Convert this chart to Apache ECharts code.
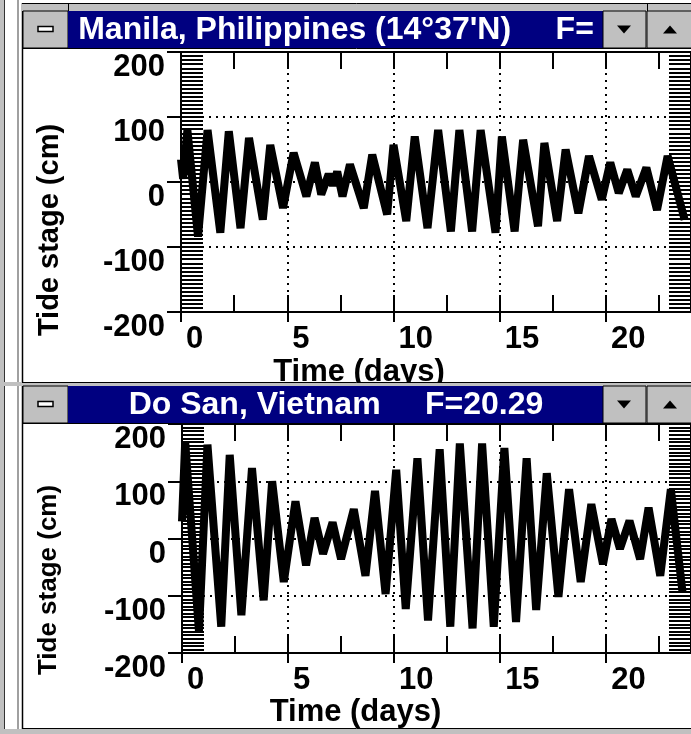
<!DOCTYPE html>
<html>
<head>
<meta charset="utf-8">
<title>Tide stage</title>
<script src="https://cdn.jsdelivr.net/npm/echarts@6/dist/echarts.min.js"></script>
<style>
    html, body { margin: 0; padding: 0; background: #fff; }
    #chart { width: 691px; height: 734px; }
</style>
</head>
<body>
<div id="chart"></div>
<script>
    // Manila, Philippines - highs and lows (day, cm)
    var manilaDays = [0, 0.1, 0.3, 0.8, 1.25, 1.85, 2.25, 2.8, 3.2, 3.85, 4.2, 4.8, 5.3, 5.9, 6.3, 6.6, 6.95, 7.15, 7.35, 7.6, 7.95,
        8.6, 9.0, 9.7, 10.0, 10.6, 11.0, 11.6, 12.1, 12.7, 13.1, 13.7, 14.1, 14.8, 15.1, 15.7, 16.1, 16.8, 17.1, 17.7,
        18.1, 18.7, 19.2, 19.8, 20.2, 20.6, 21.0, 21.4, 21.9, 22.4, 22.9, 23.7];
    var manilaCm = [35, 5, 80, -84, 80, -78, 78, -71, 68, -58, 57, -40, 45, -22, 30, -19, 12, -5, 16, -22, 27,
        -40, 42, -50, 57, -60, 70, -71, 80, -76, 80, -76, 80, -78, 70, -76, 65, -68, 60, -60,
        50, -48, 40, -27, 30, -17, 19, -22, 22, -43, 40, -58];

    // Do San, Vietnam
    var doSanDays = [0, 0.15, 0.8, 1.2, 1.85, 2.25, 2.8, 3.3, 3.85, 4.25, 4.8, 5.35, 5.85, 6.25, 6.65, 7.1, 7.5, 8.1, 8.65,
        9.1, 9.6, 10.1, 10.55, 11.1, 11.6, 12.15, 12.65, 13.1, 13.7, 14.15, 14.7, 15.2, 15.75, 16.25, 16.7, 17.2,
        17.75, 18.25, 18.8, 19.3, 19.85, 20.25, 20.65, 21.1, 21.6, 22.0, 22.55, 23.05, 23.6];
    var doSanCm = [30, 169, -163, 164, -154, 146, -134, 123, -108, 100, -76, 65, -47, 36, -27, 28, -36, 51, -65,
        83, -97, 120, -123, 140, -143, 156, -154, 166, -157, 166, -154, 158, -146, 140, -125, 114,
        -102, 86, -76, 60, -45, 34, -18, 31, -36, 54, -65, 86, -94];

    var titles = ["Manila, Philippines (14\u00b037'N)     F=", 'Do San, Vietnam     F=20.29'];
    var FONT = '"Liberation Sans", Arial, sans-serif';
    var BLACK = '#000';

    function pairs(xs, ys) {
        var out = [];
        for (var i = 0; i < xs.length; i++) {
            out.push([xs[i], ys[i]]);
        }
        return out;
    }

    function xAxesFor(g, nameGap, namePad) {
        return [{
            gridIndex: g, type: 'value', position: 'bottom', min: 0, max: 24, interval: 5,
            axisLine: {onZero: false, lineStyle: {color: BLACK, width: 2}},
            axisTick: {inside: false, length: 10, lineStyle: {color: BLACK, width: 2}},
            axisLabel: {showMaxLabel: false, color: BLACK, fontFamily: FONT, fontWeight: 'bold', fontSize: 31,
                margin: 12, align: 'left', padding: [0, 0, 0, 5]},
            splitLine: {show: true, lineStyle: {color: BLACK, width: 2, type: [2, 5]}},
            name: 'Time (days)', nameLocation: 'middle', nameGap: nameGap,
            nameTextStyle: {color: BLACK, fontFamily: FONT, fontWeight: 'bold', fontSize: 31, padding: [0, namePad, 0, 0]}
        }, {
            gridIndex: g, type: 'value', position: 'bottom', min: 0, max: 24, interval: 2.5,
            axisLine: {show: false, onZero: false},
            axisTick: {inside: true, length: 17, lineStyle: {color: BLACK, width: 2}},
            axisLabel: {show: false},
            splitLine: {show: false}
        }, {
            gridIndex: g, type: 'value', position: 'top', min: 0, max: 24, interval: 2.5,
            axisLine: {show: true, onZero: false, lineStyle: {color: BLACK, width: 2}},
            axisTick: {inside: true, length: 17, lineStyle: {color: BLACK, width: 2}},
            axisLabel: {show: false},
            splitLine: {show: false}
        }];
    }

    function yAxesFor(g, nameGap, namePad, nameSize) {
        var hatch = {show: true, splitNumber: 16, length: 22, lineStyle: {color: BLACK, width: 2}};
        return [{
            gridIndex: g, type: 'value', position: 'left', min: -200, max: 200, interval: 100,
            axisLine: {onZero: false, lineStyle: {color: BLACK, width: 2}},
            axisTick: {inside: false, length: 14, lineStyle: {color: BLACK, width: 2}},
            axisLabel: {color: BLACK, fontFamily: FONT, fontWeight: 'bold', fontSize: 31, margin: 16, verticalAlign: 'top'},
            splitLine: {show: true, lineStyle: {color: BLACK, width: 2, type: [2, 5]}},
            name: 'Tide stage (cm)', nameLocation: 'middle', nameGap: nameGap,
            nameTextStyle: {color: BLACK, fontFamily: FONT, fontWeight: 'bold', fontSize: nameSize, padding: [0, namePad, 0, 0]}
        }, {
            gridIndex: g, type: 'value', position: 'left', min: -200, max: 200, interval: 100,
            axisLine: {show: false, onZero: false},
            axisTick: {inside: true, length: 22, lineStyle: {color: BLACK, width: 2}},
            minorTick: hatch,
            axisLabel: {show: false},
            splitLine: {show: false}
        }, {
            gridIndex: g, type: 'value', position: 'right', min: -200, max: 200, interval: 100,
            axisLine: {show: true, onZero: false, lineStyle: {color: BLACK, width: 2}},
            axisTick: {inside: true, length: 22, lineStyle: {color: BLACK, width: 2}},
            minorTick: hatch,
            axisLabel: {show: false},
            splitLine: {show: false}
        }];
    }

    // window frames, title bars and buttons
    function windowChrome(top, h) {
        var gray = '#c0c0c0';
        var mid = top + h / 2;
        return [
            {type: 'rect', shape: {x: 23, y: top, width: 45, height: h}, style: {fill: gray, stroke: BLACK, lineWidth: 1}},
            {type: 'rect', shape: {x: 38, y: mid - 3, width: 15, height: 5}, style: {fill: '#fff', stroke: BLACK, lineWidth: 1.5}},
            {type: 'rect', shape: {x: 68, y: top, width: 535, height: h}, style: {fill: '#000080'}},
            {type: 'rect', shape: {x: 603, y: top, width: 43, height: h}, style: {fill: gray, stroke: BLACK, lineWidth: 1}},
            {type: 'polygon', shape: {points: [[617, mid - 4], [631, mid - 4], [624, mid + 4]]}, style: {fill: BLACK}},
            {type: 'rect', shape: {x: 647, y: top, width: 50, height: h}, style: {fill: gray, stroke: BLACK, lineWidth: 1}},
            {type: 'polygon', shape: {points: [[663, mid + 4], [677, mid + 4], [670, mid - 4]]}, style: {fill: BLACK}},
            {type: 'line', shape: {x1: 22, y1: top + h + 0.5, x2: 691, y2: top + h + 0.5}, style: {stroke: BLACK, lineWidth: 1}}
        ];
    }

    function drawChart() {
        var chart = echarts.init(document.getElementById('chart'));

        var graphics = [
            {type: 'rect', shape: {x: 0, y: 0, width: 4, height: 734}, style: {fill: '#c0c0c0'}},
            {type: 'line', shape: {x1: 4.5, y1: 0, x2: 4.5, y2: 734}, style: {stroke: '#333', lineWidth: 1}},
            {type: 'rect', shape: {x: 17, y: 0, width: 2, height: 734}, style: {fill: '#a0a0a0'}},
            {type: 'line', shape: {x1: 22.5, y1: 3, x2: 22.5, y2: 729}, style: {stroke: BLACK, lineWidth: 1.5}},
            {type: 'rect', shape: {x: 22, y: 3, width: 680, height: 8}, style: {fill: '#c0c0c0'}},
            {type: 'line', shape: {x1: 22, y1: 3.5, x2: 691, y2: 3.5}, style: {stroke: BLACK, lineWidth: 1}},
            {type: 'line', shape: {x1: 68.5, y1: 3, x2: 68.5, y2: 11}, style: {stroke: BLACK, lineWidth: 1}},
            {type: 'line', shape: {x1: 647.5, y1: 3, x2: 647.5, y2: 11}, style: {stroke: BLACK, lineWidth: 1}},
            // gap between the two windows
            {type: 'rect', shape: {x: 0, y: 382, width: 691, height: 4}, style: {fill: '#c0c0c0'}},
            {type: 'line', shape: {x1: 22, y1: 382.5, x2: 691, y2: 382.5}, style: {stroke: BLACK, lineWidth: 1}},
            // bottom frame
            {type: 'rect', shape: {x: 0, y: 729, width: 691, height: 5}, style: {fill: '#c0c0c0'}},
            {type: 'line', shape: {x1: 22, y1: 728.5, x2: 691, y2: 728.5}, style: {stroke: BLACK, lineWidth: 1}}
        ];
        graphics = graphics.concat(windowChrome(11, 37)).concat(windowChrome(386, 37));
        graphics.push({type: 'text', style: {x: 336, y: 30, text: titles[0], fill: '#fff', align: 'center',
            verticalAlign: 'middle', font: 'bold 32px ' + FONT}});
        graphics.push({type: 'text', style: {x: 336, y: 405, text: titles[1], fill: '#fff', align: 'center',
            verticalAlign: 'middle', font: 'bold 32px ' + FONT}});
        for (var i = 0; i < graphics.length; i++) {
            graphics[i].z = 100;
            graphics[i].silent = true;
        }

        var option = {
            backgroundColor: '#fff',
            animation: false,
            grid: [
                {left: 181, top: 52, width: 511, height: 260},
                {left: 182, top: 424, width: 516, height: 229}
            ],
            xAxis: xAxesFor(0, 45, 154).concat(xAxesFor(1, 40, 162)),
            yAxis: yAxesFor(0, 117, 96, 29).concat(yAxesFor(1, 120, 83, 26)),
            series: [{
                name: 'Manila',
                type: 'line',
                xAxisIndex: 0,
                yAxisIndex: 0,
                data: pairs(manilaDays, manilaCm),
                showSymbol: false,
                lineStyle: {color: BLACK, width: 8, join: 'bevel'},
                z: 3
            }, {
                name: 'Do San',
                type: 'line',
                xAxisIndex: 3,
                yAxisIndex: 3,
                data: pairs(doSanDays, doSanCm),
                showSymbol: false,
                lineStyle: {color: BLACK, width: 8, join: 'bevel'},
                z: 3
            }],
            graphic: graphics
        };
        chart.setOption(option);
    }

    drawChart();
</script>
</body>
</html>
